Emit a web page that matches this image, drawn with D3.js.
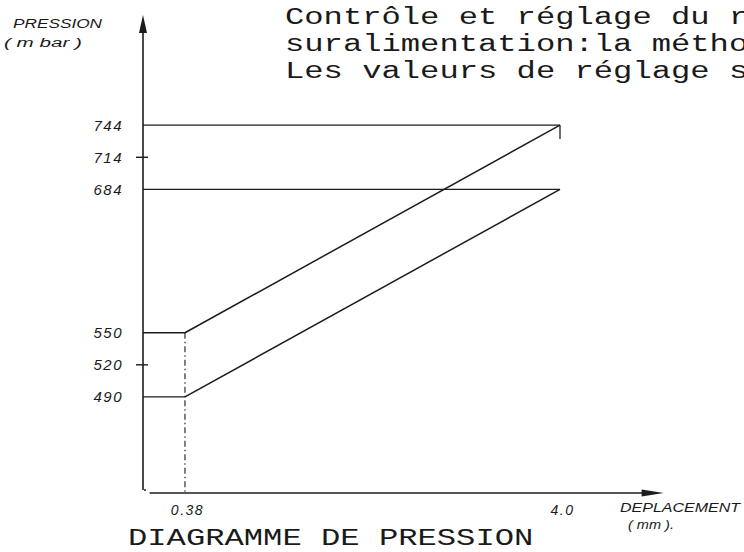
<!DOCTYPE html>
<html>
<head>
<meta charset="utf-8">
<script src="https://cdn.jsdelivr.net/npm/d3@7"></script>
<style>
  html, body { margin: 0; padding: 0; background: #fff; }
  svg { display: block; }
  .mono { font-family: "Liberation Mono", "DejaVu Sans Mono", monospace; fill: #1a1a1a; }
  .hand { font-family: "Liberation Sans", "DejaVu Sans", sans-serif; font-style: italic; fill: #1a1a1a; }
</style>
</head>
<body>
<script>
// ---- data ----
const titleLines = ["Contrôle et réglage du r", "suralimentation:la métho", "Les valeurs de réglage s"];
const bottomTitle = "DIAGRAMME DE PRESSION";
const yLabels = [744, 714, 684, 550, 520, 490];
const yTickMarks = [714, 520];
const xTickValues = [0.38, 4.0];
const xTickLabels = ["0.38", "4.0"];
const upperLine = [[0.38, 550], [4.0, 744]];
const lowerLine = [[0.38, 490], [4.0, 684]];
const refLevels = [[744, 4.0], [684, 4.0], [550, 0.38], [490, 0.38]];
const endStub = [[4.0, 744], [4.0, 731]];
const yAxisName = ["PRESSION", "( m bar )"];
const xAxisName = ["DEPLACEMENT", "( mm )."];
const xDomain = [0, 5.0];
const yDomain = [403, 847];

// ---- drawing ----
const W = 744, H = 552;
const svg = d3.select("body").append("svg").attr("width", W).attr("height", H);

const x = d3.scaleLinear().domain(xDomain).range([145.6, 663.6]);
const y = d3.scaleLinear().domain(yDomain).range([490, 15]);
const ink = "#1c1c1c";

// title lines (typewriter)
const charW = 19.3;
svg.selectAll("text.title").data(titleLines).join("text")
  .attr("class", "mono title")
  .attr("x", 285).attr("y", (d, i) => 24 + i * 27)
  .attr("font-size", 23)
  .attr("textLength", d => d.length * charW)
  .attr("lengthAdjust", "spacingAndGlyphs")
  .text(d => d);

svg.append("text").attr("class", "mono")
  .attr("x", 128).attr("y", 545).attr("font-size", 24)
  .attr("textLength", bottomTitle.length * charW)
  .attr("lengthAdjust", "spacingAndGlyphs")
  .text(bottomTitle);

// y axis (line + arrow)
const x0 = x(0) - 2.6;
svg.append("line").attr("x1", x0).attr("x2", x0)
  .attr("y1", y(yDomain[1]) + 16).attr("y2", y(yDomain[0]))
  .attr("stroke", ink).attr("stroke-width", 1.6);
svg.append("path")
  .attr("d", `M${x0},${y(yDomain[1])} L${x0 - 4},${y(yDomain[1]) + 18} L${x0 + 4},${y(yDomain[1]) + 18} Z`)
  .attr("fill", ink);
svg.append("circle").attr("cx", x0 + 2).attr("cy", y(yDomain[0])).attr("r", 1).attr("fill", ink);

// y tick labels via axis generator
const yAxis = d3.axisLeft(y).tickValues(yLabels).tickSize(0).tickPadding(0).tickFormat(d3.format("d"));
const gy = svg.append("g").attr("transform", `translate(${x0 - 20},0)`).call(yAxis);
gy.select(".domain").remove();
gy.selectAll("text").attr("class", "hand").attr("font-size", 15)
  .attr("fill", ink).attr("letter-spacing", 1.5);

// small crossing ticks
svg.selectAll("line.ytick").data(yTickMarks).join("line")
  .attr("x1", x0 - 7).attr("x2", x0 + 5)
  .attr("y1", d => y(d)).attr("y2", d => y(d))
  .attr("stroke", ink).attr("stroke-width", 1.4);

// x axis
const yb = y(yDomain[0]) + 3;
const xAxis = d3.axisBottom(x).tickValues(xTickValues).tickSize(0).tickPadding(12)
  .tickFormat((d, i) => xTickLabels[i]);
const gx = svg.append("g").attr("transform", `translate(0,${yb})`).call(xAxis);
gx.select(".domain").remove();
gx.selectAll("text").attr("class", "hand").attr("font-size", 14).attr("fill", ink)
  .attr("letter-spacing", 1.5).attr("dx", 2);
svg.append("line").attr("x1", x(0) + 4).attr("x2", x(xDomain[1]) - 18)
  .attr("y1", yb).attr("y2", yb).attr("stroke", ink).attr("stroke-width", 1.6);
svg.append("path")
  .attr("d", `M${x(xDomain[1])},${yb} L${x(xDomain[1]) - 22},${yb - 3.5} L${x(xDomain[1]) - 22},${yb + 3.5} Z`)
  .attr("fill", ink);

// axis names
const yNameG = svg.append("g");
yNameG.append("text").attr("class", "hand").attr("x", 13).attr("y", 28)
  .attr("font-size", 13).attr("textLength", 89).attr("lengthAdjust", "spacingAndGlyphs").text(yAxisName[0]);
yNameG.append("text").attr("class", "hand").attr("x", 4).attr("y", 47)
  .attr("font-size", 12).attr("textLength", 78).attr("lengthAdjust", "spacingAndGlyphs").text(yAxisName[1]);
svg.append("text").attr("class", "hand").attr("x", 620).attr("y", 512)
  .attr("font-size", 13).attr("textLength", 120).attr("lengthAdjust", "spacingAndGlyphs").text(xAxisName[0]);
svg.append("text").attr("class", "hand").attr("x", 628).attr("y", 529)
  .attr("font-size", 12).attr("textLength", 46).attr("lengthAdjust", "spacingAndGlyphs").text(xAxisName[1]);

// reference horizontal levels
svg.selectAll("line.level").data(refLevels).join("line")
  .attr("x1", x0).attr("x2", d => x(d[1]))
  .attr("y1", d => y(d[0])).attr("y2", d => y(d[0]))
  .attr("stroke", ink).attr("stroke-width", 1.3);

// dash-dot vertical at 0.38
svg.append("line").attr("x1", x(0.38)).attr("x2", x(0.38))
  .attr("y1", y(550)).attr("y2", yb)
  .attr("stroke", ink).attr("stroke-width", 1.1).attr("stroke-dasharray", "6,3,1.5,3");

// stub at 4.0
const line = d3.line().x(d => x(d[0])).y(d => y(d[1]));
svg.append("path").attr("d", line(endStub)).attr("stroke", ink).attr("stroke-width", 1.3).attr("fill", "none");

// pressure lines
[upperLine, lowerLine].forEach(s => {
  svg.append("path").attr("d", line(s)).attr("stroke", ink).attr("stroke-width", 1.5).attr("fill", "none");
});
</script>
</body>
</html>
